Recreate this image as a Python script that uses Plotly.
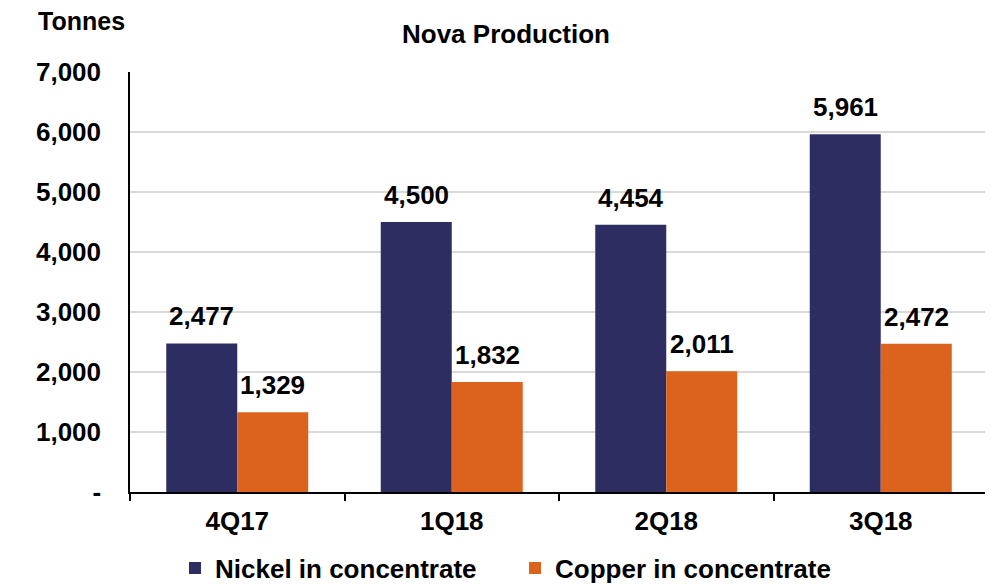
import plotly.graph_objects as go

categories = ["4Q17", "1Q18", "2Q18", "3Q18"]
nickel = [2477, 4500, 4454, 5961]
copper = [1329, 1832, 2011, 2472]
y_tickvals = [0, 1000, 2000, 3000, 4000, 5000, 6000, 7000]
y_ticktext = ["-", "1,000", "2,000", "3,000", "4,000", "5,000", "6,000", "7,000"]

NAVY = "#2E2D62"
ORANGE = "#DC631E"
FONT = "Liberation Sans, Arial, sans-serif"
FS = 26

# page has an 8px body margin, so the figure is sized/positioned to compensate
W, H = 985, 576
L, R, T, B = 122, 5, 64, 92
PW, PH = W - L - R, H - T - B

fig = go.Figure()
fig.add_trace(go.Bar(name="Nickel in concentrate", x=categories, y=nickel,
                     marker=dict(color=NAVY, line=dict(width=0))))
fig.add_trace(go.Bar(name="Copper in concentrate", x=categories, y=copper,
                     marker=dict(color=ORANGE, line=dict(width=0))))

for vals, shift in ((nickel, -35.5), (copper, 35.5)):
    for c, v in zip(categories, vals):
        fig.add_annotation(x=c, y=v, text=f"{v:,}", showarrow=False,
                           xshift=shift, yshift=10, yanchor="bottom",
                           font=dict(family=FONT, size=FS, color="black", weight="bold"))

fig.add_annotation(text="Tonnes", xref="paper", yref="paper",
                   x=(28 - L) / PW, y=(H - 13 - B) / PH,
                   xanchor="left", yanchor="middle", showarrow=False,
                   font=dict(family=FONT, size=FS - 1, color="black", weight="bold"))

fig.update_layout(
    width=W, height=H,
    margin=dict(l=L, r=R, t=T, b=B, autoexpand=False),
    paper_bgcolor="white", plot_bgcolor="white",
    barmode="group", bargap=0.338, bargroupgap=0,
    title=dict(text="Nova Production", x=498 / W, xanchor="center",
               y=1 - 26 / H, yanchor="middle",
               font=dict(family=FONT, size=FS, color="black", weight="bold")),
    font=dict(family=FONT, size=FS, color="black", weight="bold"),
    legend=dict(orientation="h", x=167 / W, xanchor="left", xref="container",
                y=16 / H, yref="container", yanchor="middle",
                font=dict(family=FONT, size=FS, color="black", weight="bold"),
                entrywidth=295, entrywidthmode="pixels",
                itemwidth=30, tracegroupgap=0),
    showlegend=True,
    xaxis=dict(type="category", showline=True, linecolor="black", linewidth=1.5,
               ticks="outside", ticklen=7, tickcolor="black", tickwidth=1.5,
               tickson="boundaries", showgrid=False, automargin=False,
               ticklabelstandoff=5,
               tickfont=dict(family=FONT, size=FS, color="black", weight="bold")),
    yaxis=dict(range=[0, 7000], tickvals=y_tickvals, ticktext=y_ticktext,
               showline=True, linecolor="black", linewidth=1.5,
               showgrid=True, gridcolor="#D9D9D9", gridwidth=1.5,
               ticks="", ticklabelstandoff=22, zeroline=False, automargin=False,
               tickfont=dict(family=FONT, size=FS, color="black", weight="bold")),
)

fig.write_html("out.html")
